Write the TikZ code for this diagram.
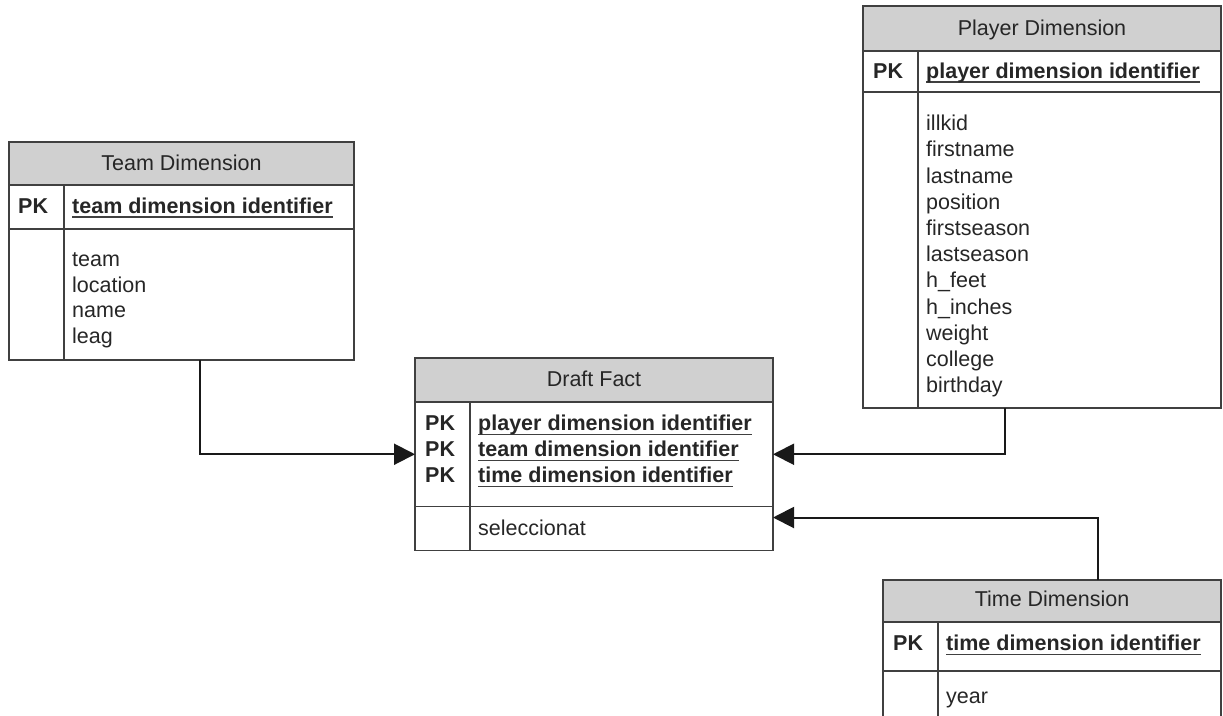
\documentclass[tikz,border=0pt]{standalone}
\usepackage{fontspec}
\setmainfont{Liberation Sans}
\usetikzlibrary{arrows.meta}

\definecolor{headfill}{RGB}{208,208,208}
\definecolor{edge}{RGB}{64,64,64}
\definecolor{ink}{RGB}{38,38,38}

% bold key name with an underline that runs through the descenders
\newcommand\keyname[1]{\setbox0\hbox{\bfseries #1}\rlap{\color{edge}\rule[-4.5pt]{\wd0}{1.6pt}}\box0}

\begin{document}
\begin{tikzpicture}[x=1pt,y=-1pt,
  font=\fontsize{21.5}{25.7}\selectfont, text=ink,
  part/.style={draw=edge, line width=1.4pt, anchor=north west, inner sep=0pt, outer sep=0pt},
  head/.style={part, fill=headfill},
  divider/.style={draw=edge, line width=1.4pt},
  txt/.style={anchor=base west, inner sep=0pt},
  ttl/.style={anchor=base, inner sep=0pt},
  pk/.style={txt, font=\fontsize{21.5}{25.7}\selectfont\bfseries},
  conn/.style={draw=black!90, line width=2pt, -{Triangle[length=21pt,width=21pt]}}]

\useasboundingbox (0,0) rectangle (1223,715);
\clip (0,0) rectangle (1223,715);

% ---------- Team Dimension ----------
\node[head, minimum width=345pt, minimum height=43pt]  (teamHead) at (9,142) {};
\node[part, minimum width=345pt, minimum height=44pt]  (teamKey)  at (9,185) {};
\node[part, minimum width=345pt, minimum height=131pt] (teamAttr) at (9,229) {};
\draw[divider] ([xshift=55pt]teamKey.north west) -- ([xshift=55pt]teamAttr.south west);
\node[ttl] (teamTitle) at (181.5,170) {Team Dimension};
\node[pk]  (teamPK)    at (18,213) {PK};
\node[txt] (teamKeyName) at (72,213) {\keyname{team dimension identifier}};
\foreach \f [count=\i from 0] in {team,location,name,leag}
  \node[txt] (teamF\i) at (72,266.7+25.6*\i) {\f};

% ---------- Draft Fact ----------
\node[head, minimum width=358pt, minimum height=44pt]    (draftHead) at (415,358) {};
\node[part, minimum width=358pt, minimum height=104.5pt] (draftKey)  at (415,402) {};
\node[part, minimum width=358pt, minimum height=44pt]    (draftAttr) at (415,506.5) {};
\draw[divider] ([xshift=55pt]draftKey.north west) -- ([xshift=55pt]draftAttr.south west);
\node[ttl] (draftTitle) at (594,386) {Draft Fact};
\node[pk]  (draftPKa) at (425,430.7) {PK};
\node[pk]  (draftPKb) at (425,456.7) {PK};
\node[pk]  (draftPKc) at (425,482.7) {PK};
\node[txt] (draftKa) at (478,430.7) {\keyname{player dimension identifier}};
\node[txt] (draftKb) at (478,456.7) {\keyname{team dimension identifier}};
\node[txt] (draftKc) at (478,482.7) {\keyname{time dimension identifier}};
\node[txt] (draftF0) at (478,535) {seleccionat};

% ---------- Player Dimension ----------
\node[head, minimum width=358pt, minimum height=45pt]  (playerHead) at (863,6) {};
\node[part, minimum width=358pt, minimum height=41pt]  (playerKey)  at (863,51) {};
\node[part, minimum width=358pt, minimum height=316pt] (playerAttr) at (863,92) {};
\draw[divider] ([xshift=55pt]playerKey.north west) -- ([xshift=55pt]playerAttr.south west);
\node[ttl] (playerTitle) at (1042,35) {Player Dimension};
\node[pk]  (playerPK) at (873,78.3) {PK};
\node[txt] (playerKeyName) at (926,78.3) {\keyname{player dimension identifier}};
\foreach \f [count=\i from 0] in {illkid,firstname,lastname,position,firstseason,
    lastseason,h\_feet,h\_inches,weight,college,birthday}
  \node[txt] (playerF\i) at (926,130.7+26.2*\i) {\f};

% ---------- Time Dimension ----------
\node[head, minimum width=338pt, minimum height=42pt] (timeHead) at (883,580) {};
\node[part, minimum width=338pt, minimum height=49pt] (timeKey)  at (883,622) {};
\node[part, minimum width=338pt, minimum height=80pt] (timeAttr) at (883,671) {};
\draw[divider] ([xshift=55pt]timeKey.north west) -- ([xshift=55pt]timeAttr.south west);
\node[ttl] (timeTitle) at (1052,606.7) {Time Dimension};
\node[pk]  (timePK) at (893,650.7) {PK};
\node[txt] (timeKeyName) at (946,650.7) {\keyname{time dimension identifier}};
\node[txt] (timeF0) at (946,703.3) {year};

% ---------- relationships ----------
\draw[conn] ([xshift=191pt]teamAttr.south west) |- (draftKey.west);
\draw[conn] ([xshift=142pt]playerAttr.south west) |- (draftKey.east);
\draw[conn] ([xshift=215pt]timeHead.north west) |- ([yshift=11pt]draftAttr.east);

\end{tikzpicture}
\end{document}
